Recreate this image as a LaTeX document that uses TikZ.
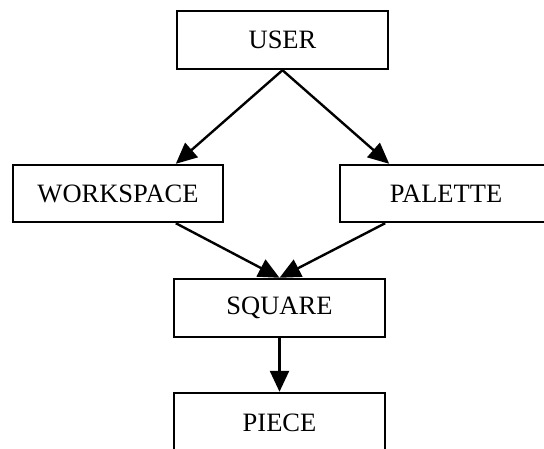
\documentclass[tikz,border=0pt]{standalone}
\usepackage{fontspec}
\setmainfont{Liberation Serif}
\usetikzlibrary{arrows.meta}
\begin{document}
\begin{tikzpicture}[x=1pt,y=1pt,
  box/.style={draw, line width=2.4pt, inner sep=0pt, fill=white,
    font=\fontsize{26.5}{30}\selectfont},
  link/.style={line width=2.4pt, -{Triangle[length=21pt,width=19pt]}}]
\useasboundingbox (0,0) rectangle (544,-449);
\clip (0,0) rectangle (544,-449);
\node[box, minimum width=211pt, minimum height=58pt] (user) at (282.5,-40) {USER};
\node[box, minimum width=210pt, minimum height=57pt] (workspace) at (118,-193.5) {WORKSPACE};
\node[box, minimum width=212pt, minimum height=57pt] (palette) at (446,-193.5) {PALETTE};
\node[box, minimum width=211pt, minimum height=58pt] (square) at (279.5,-308) {SQUARE};
\node[box, minimum width=211pt, minimum height=60pt] (piece) at (279.5,-423) {PIECE};
\draw[link] (user.south) -- (user.south west |- workspace.north);
\draw[link] (user.south) -- (user.south east |- palette.north);
\draw[link] (user.south west |- workspace.south) -- (square.north);
\draw[link] ([xshift=-4pt]user.south east |- palette.south) -- (square.north);
\draw[link] (square.south) -- (piece.north);
\end{tikzpicture}
\end{document}
